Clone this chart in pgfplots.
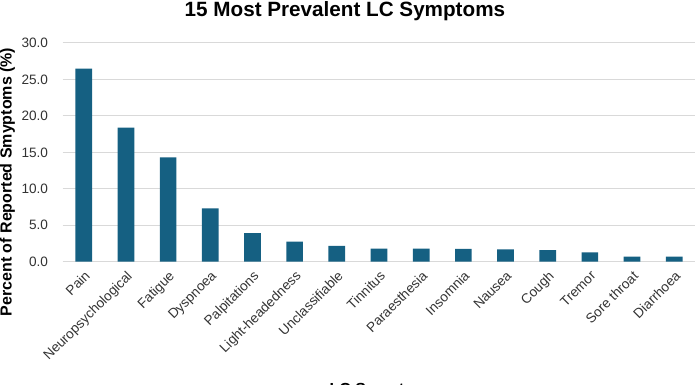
\documentclass[border=0pt]{standalone}
\usepackage{fontspec}
\setmainfont{Liberation Sans}
\usepackage{pgfplots}
\pgfplotsset{compat=1.18}
\definecolor{barc}{HTML}{156082}
\definecolor{gridc}{HTML}{D9D9D9}
\begin{document}
\begin{tikzpicture}
\begin{axis}[
  at={(0,0)}, anchor=south west,
  scale only axis, width=474.5pt, height=164pt,
  xmin=-0.5, xmax=14.5, ymin=0, ymax=30,
  ytick={0,5,...,30},
  xtick={0,...,14},
  xticklabels={Pain,Neuropsychological,Fatigue,Dyspnoea,Palpitations,Light-headedness,Unclassifiable,Tinnitus,Paraesthesia,Insomnia,Nausea,Cough,Tremor,Sore throat,Diarrhoea},
  axis line style={draw=none},
  major tick length=0pt,
  ymajorgrids,
  major grid style={draw=gridc, line width=0.75pt},
  yticklabel={\pgfmathprintnumber[fixed,fixed zerofill,precision=1,assume math mode=true]{\tick}},
  yticklabel style={anchor=east, inner sep=0pt, xshift=-10.8pt, font=\fontsize{10.2}{12}\selectfont, text=black!80},
  xticklabel style={rotate=45, anchor=north east, inner sep=0pt, font=\fontsize{10.2}{12}\selectfont, text=black!80},
  xticklabel shift=6pt,
  ylabel={Percent of Reported Smyptoms (\%)},
  ylabel style={at={(axis description cs:-0.0872,0.3646)}, anchor=center, inner sep=0pt, font=\bfseries\fontsize{12}{14}\selectfont},
  xlabel={LC Symptom},
  xlabel style={at={(axis description cs:0.5,0)}, anchor=north, inner sep=0pt, yshift=-91pt, font=\bfseries\fontsize{12}{14}\selectfont},
  clip=false,
]
\addplot[ybar, bar width=12.5pt, fill=barc, draw=none] coordinates {
(0,26.5) (1,18.4) (2,14.3) (3,7.3) (4,3.9) (5,2.75) (6,2.15) (7,1.8) (8,1.8) (9,1.75) (10,1.68) (11,1.58) (12,1.26) (13,0.68) (14,0.7)
};
\end{axis}
\node[anchor=base, inner sep=0pt] at (211.7pt,183.75pt) {\bfseries\fontsize{15.5}{18}\selectfont 15 Most Prevalent LC Symptoms};
\pgfresetboundingbox
\path[use as bounding box] (-47pt,-92.5pt) rectangle (475pt,196.25pt);
\end{tikzpicture}
\end{document}
